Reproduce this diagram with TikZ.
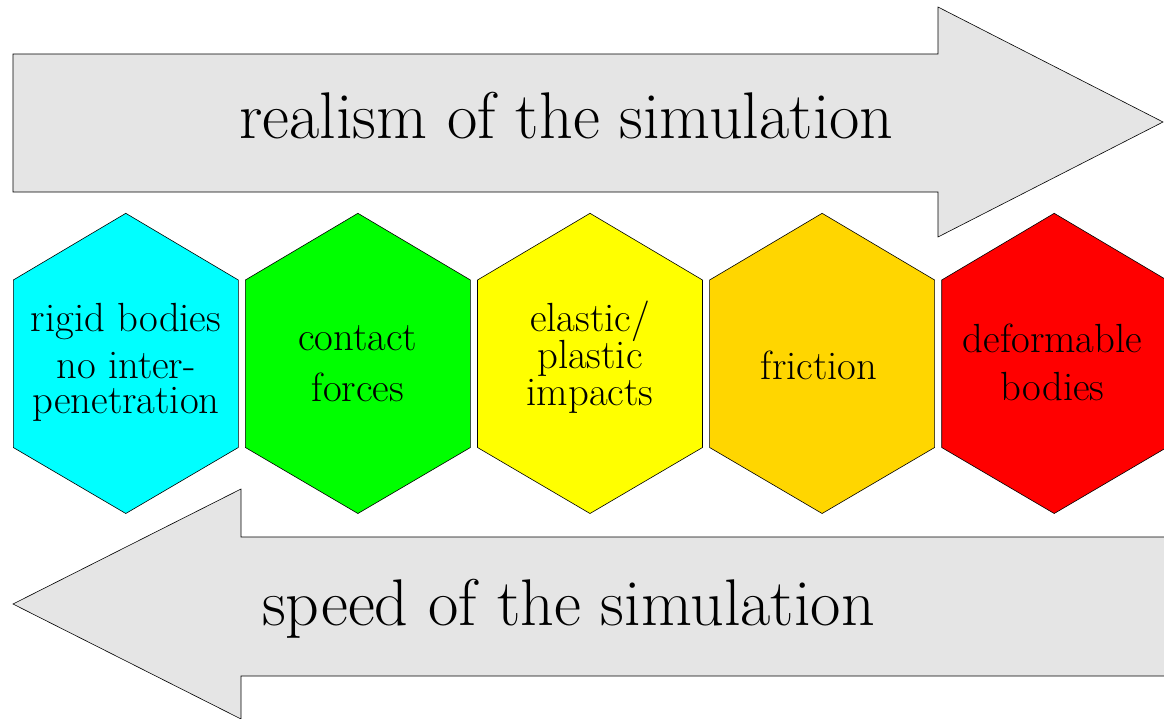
\documentclass[tikz,border=0pt]{standalone}
\begin{document}
\begin{tikzpicture}[x=1pt,y=-1pt,
  hexa/.style={draw=black, line width=0.6pt, line join=miter},
  banner/.style={draw=black, fill=gray!20, line width=0.6pt},
  hextext/.style={anchor=base, align=center, inner sep=0pt, font=\fontsize{40.7}{40.7}\selectfont},
  bigtext/.style={anchor=base, inner sep=0pt, font=\fontsize{66}{79}\selectfont}]
\definecolor{hexcyan}{RGB}{0,255,255}
\definecolor{hexgreen}{RGB}{0,255,0}
\definecolor{hexyellow}{RGB}{255,255,0}
\definecolor{hexgold}{RGB}{255,214,0}
\definecolor{hexred}{RGB}{255,0,0}
\useasboundingbox (0,0) rectangle (1164,718);
\clip (0,0) rectangle (1164,718);
% banners
\path[banner] (13,54) -- (938,54) -- (938,7) -- (1163,122) -- (938,237) -- (938,192) -- (13,192) -- cycle;
\path[banner] (1180,537) -- (241,537) -- (241,489) -- (13,604) -- (241,719) -- (241,676) -- (1180,676);
% hexagons
\foreach \c/\col in {125.8/hexcyan, 357.9/hexgreen, 590/hexyellow, 822.1/hexgold, 1054.2/hexred} {
  \path[hexa, fill=\col] (\c,213.3) -- (\c+112.5,280) -- (\c+112.5,447.5) -- (\c,513.5) -- (\c-112.5,447.5) -- (\c-112.5,280) -- cycle;
}
% texts (base anchor = baseline of the last line)
\node[bigtext] (realism) at (566.5,138) {realism of the simulation};
\node[bigtext] (speed) at (568.5,625) {speed of the simulation};
\node[hextext] (rigid) at (126,413) {rigid bodies\\[6.3pt]no inter-\\[-5.7pt]penetration};
\node[hextext] (contact) at (357.8,401.7) {contact\\[11pt]forces};
\node[hextext] (elastic) at (590,405) {elastic/\\[-3.7pt]plastic\\[-3.7pt]impacts};
\node[hextext] (friction) at (819,379) {friction};
\node[hextext] (deform) at (1052.5,400) {deformable\\[7.3pt]bodies};
\end{tikzpicture}
\end{document}
